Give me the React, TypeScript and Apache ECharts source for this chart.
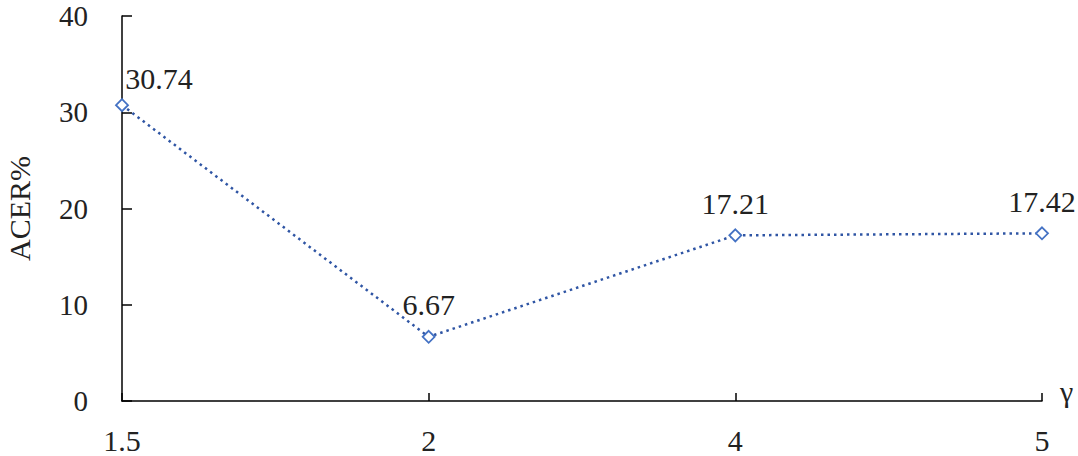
import React, { useEffect, useRef } from "react";
import * as echarts from "echarts";

const categories = ["1.5", "2", "4", "5"];
const acerValues = [30.74, 6.67, 17.21, 17.42];
const yTicks = { min: 0, max: 40, interval: 10 };

const FONT = "Liberation Serif";

export default function App() {
  const ref = useRef<HTMLDivElement>(null);
  useEffect(() => {
    if (!ref.current) return;
    const chart = echarts.init(ref.current, undefined, { renderer: "svg" });
    chart.setOption({
      animation: false,
      textStyle: { fontFamily: FONT },
      grid: { left: 122, right: 36, top: 16, bottom: 55, outerBoundsMode: "none", containLabel: false },
      xAxis: {
        type: "category",
        data: categories,
        boundaryGap: false,
        name: "γ",
        nameLocation: "end",
        nameGap: 18,
        nameTextStyle: { fontFamily: FONT, fontSize: 30, color: "#222", verticalAlign: "bottom", padding: [0, 0, -5, 0] },
        axisLine: { lineStyle: { color: "#000", width: 1.5 } },
        axisTick: { inside: true, length: 8, alignWithLabel: true, lineStyle: { color: "#000", width: 1.5 } },
        axisLabel: { fontFamily: FONT, fontSize: 30, color: "#222", margin: 24 },
        splitLine: { show: false },
      },
      yAxis: {
        type: "value",
        min: yTicks.min,
        max: yTicks.max,
        interval: yTicks.interval,
        name: "ACER%",
        nameLocation: "middle",
        nameRotate: 90,
        nameGap: 88,
        nameTextStyle: { fontFamily: FONT, fontSize: 30, color: "#222" },
        axisLine: { show: true, lineStyle: { color: "#000", width: 1.5 } },
        axisTick: { show: true, inside: true, length: 10, lineStyle: { color: "#000", width: 1.5 } },
        axisLabel: { fontFamily: FONT, fontSize: 29, lineHeight: 26, color: "#222", margin: 34 },
        splitLine: { show: false },
      },
      series: [
        {
          type: "line",
          data: acerValues.map((v, i) =>
            i === 0
              ? { value: v, label: { offset: [37, 5] } }
              : { value: v }
          ),
          symbol: "diamond",
          symbolSize: 12,
          itemStyle: { color: "#fff", borderColor: "#4472c4", borderWidth: 1.8 },
          lineStyle: { color: "#2f55a4", width: 2.5, type: [2.5, 4] },
          label: {
            show: true,
            position: "top",
            distance: 10,
            fontFamily: FONT,
            fontSize: 30,
            color: "#222",
          },
        },
      ],
    });
    return () => chart.dispose();
  }, []);
  return <div ref={ref} style={{ width: 1078, height: 456, position: "absolute", left: 0, top: 0 }} />;
}
